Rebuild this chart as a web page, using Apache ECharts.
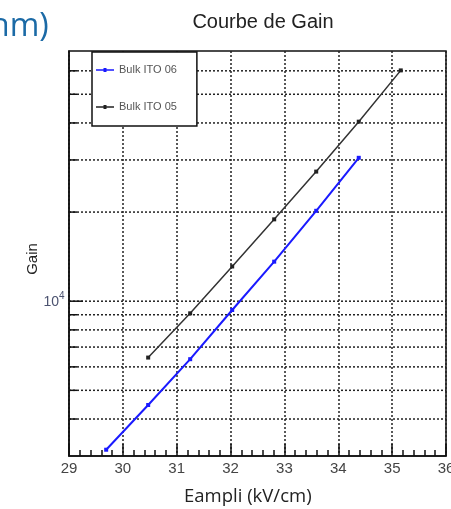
<!DOCTYPE html>
<html>
<head>
<meta charset="utf-8">
<script src="https://cdn.jsdelivr.net/npm/echarts@6/dist/echarts.min.js"></script>
<style>
html,body{margin:0;padding:0;background:#fff;overflow:hidden;}
#c{width:451px;height:509px;}
</style>
</head>
<body>
<div id="c"></div>
<script>
// Data
const eampli = [29.69, 30.47, 31.25, 32.03, 32.81, 33.59, 34.38, 35.16];
const gainITO06 = [3150, 4460, 6370, 9340, 13600, 20200, 30500];
const gainITO05 = [6450, 9100, 13100, 18900, 27400, 40400, 60200];
const xTicks = [29, 30, 31, 32, 33, 34, 35, 36];
const yGrid = [4000, 5000, 6000, 7000, 8000, 9000, 10000, 20000, 30000, 40000, 50000, 60000];
const seriesNames = ['Bulk ITO 06', 'Bulk ITO 05'];

const s06 = gainITO06.map((v, i) => [eampli[i], v]);
const s05 = gainITO05.map((v, i) => [eampli[i + 1], v]);

const chart = echarts.init(document.getElementById('c'), null, {renderer: 'canvas'});
const XMIN = 29, XMAX = 36;
const legendIcon = 'path://M0,1.2 L18,1.2 L18,2.8 L0,2.8 Z M7.5,0 L10.5,0 L10.5,4 L7.5,4 Z';

chart.setOption({
  animation: false,
  backgroundColor: '#fff',
  title: {
    text: 'Courbe de Gain',
    left: 258, top: 7, textAlign: 'center',
    textStyle: {fontFamily: 'Liberation Sans', fontSize: 20, fontWeight: 'normal', color: '#222'}
  },
  graphic: [
    {type: 'text', left: -10, top: 11, style: {text: 'nm)', font: '32px "Open Sans"', fill: '#1b6aa6'}},
    {type: 'text', left: 184, top: 487, style: {text: 'Eampli (kV/cm)', font: '18.5px "Open Sans"', fill: '#222'}},
    {type: 'text', x: 33, y: 259, rotation: Math.PI / 2, style: {text: 'Gain', font: '15px "Liberation Sans"', fill: '#222', align: 'center', verticalAlign: 'middle'}}
  ],
  grid: {left: 69, right: 5, top: 51, bottom: 53, outerBoundsMode: 'none', containLabel: false,
    show: true, borderColor: '#111', borderWidth: 1.5, backgroundColor: 'transparent'},
  legend: {
    left: 92, top: 52,
    orient: 'vertical',
    data: seriesNames.map(n => ({name: n, icon: legendIcon})),
    itemWidth: 18, itemHeight: 4, itemGap: 23,
    padding: [11, 20, 12, 4],
    backgroundColor: '#fff', borderColor: '#111', borderWidth: 1.5, borderRadius: 0,
    textStyle: {fontFamily: 'Liberation Sans', fontSize: 11, color: '#555', lineHeight: 14}
  },
  xAxis: {
    type: 'value', min: XMIN, max: XMAX, interval: 1,
    axisLine: {show: true, onZero: false, lineStyle: {color: '#111', width: 1.5}},
    axisTick: {show: true, inside: true, length: 12, lineStyle: {color: '#111', width: 1.5}},
    minorTick: {show: true, splitNumber: 5, length: 6, lineStyle: {color: '#111', width: 1.5}},
    splitLine: {show: true, lineStyle: {color: '#222', width: 1.5, type: [2, 2]}},
    axisLabel: {color: '#444', fontFamily: 'Liberation Sans', fontSize: 15, margin: 5, showMinLabel: true, showMaxLabel: true,
      formatter: v => xTicks.includes(v) ? String(v) : ''}
  },
  yAxis: {
    type: 'log', logBase: 10, min: 3000, max: 70000,
    axisLine: {show: true, lineStyle: {color: '#111', width: 1.5}},
    axisTick: {show: false},
    axisLabel: {show: false},
    splitLine: {show: false}
  },
  series: [
    {
      type: 'custom',
      silent: true,
      z: 1,
      encode: {x: 0, y: 1},
      data: yGrid.map(v => [XMIN, v]),
      renderItem: function (params, api) {
        const v = api.value(1);
        const p0 = api.coord([XMIN, v]);
        const p1 = api.coord([XMAX, v]);
        const major = v === 10000;
        const children = [
          {type: 'line', shape: {x1: p0[0], y1: p0[1], x2: p1[0], y2: p1[1]},
           style: {stroke: '#222', lineWidth: 1.5, lineDash: [2, 2]}},
          {type: 'line', shape: {x1: p0[0], y1: p0[1], x2: p0[0] + (major ? 14 : 8), y2: p0[1]},
           style: {stroke: '#111', lineWidth: 1.5}}
        ];
        if (major) {
          children.push({type: 'text', x: p0[0] - 10, y: p0[1] + 1,
            style: {text: '10', font: '14px "Liberation Sans"', fill: '#4c5370', align: 'right', verticalAlign: 'middle'}});
          children.push({type: 'text', x: p0[0] - 10, y: p0[1] - 5,
            style: {text: '4', font: '10px "Liberation Sans"', fill: '#4c5370', align: 'left', verticalAlign: 'middle'}});
        }
        return {type: 'group', children: children};
      }
    },
    {
      name: seriesNames[0], type: 'line', data: s06, z: 3,
      symbol: 'rect', symbolSize: 4,
      lineStyle: {color: '#1a1aff', width: 2},
      itemStyle: {color: '#1a1aff'}
    },
    {
      name: seriesNames[1], type: 'line', data: s05, z: 3,
      symbol: 'rect', symbolSize: 4,
      lineStyle: {color: '#333', width: 1.5},
      itemStyle: {color: '#222'}
    }
  ]
});
</script>
</body>
</html>
